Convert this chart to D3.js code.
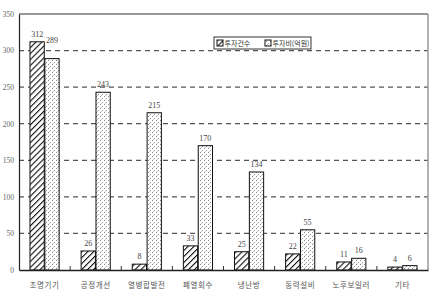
<!DOCTYPE html>
<html><head><meta charset="utf-8">
<script src="https://cdn.jsdelivr.net/npm/d3@7"></script>
<style>body{margin:0;background:#fff}svg{display:block}</style>
</head><body>
<svg id="c" width="437" height="298"></svg>
<script>
const categories = ["조명기기","공정개선","열병합발전","폐열회수","냉난방","동력설비","노후보일러","기타"];
const countValues = [312,26,8,33,25,22,11,4];
const costValues = [289,243,215,170,134,55,16,6];
const seriesNames = ["투자건수","투자비(억원)"];
const yTicks = [0,50,100,150,200,250,300,350];

const W=437,H=298,m={l:19,r:9,t:14,b:28};
const svg=d3.select("#c");
const defs=svg.append("defs");
const hatch=defs.append("pattern").attr("id","hatch").attr("patternUnits","userSpaceOnUse")
  .attr("width",4.2).attr("height",4.2).attr("patternTransform","rotate(45)");
hatch.append("rect").attr("width",4.2).attr("height",4.2).attr("fill","#fff");
hatch.append("line").attr("x1",0).attr("y1",0).attr("x2",0).attr("y2",4.2).attr("stroke","#111").attr("stroke-width",2.2);
const dots=defs.append("pattern").attr("id","dots").attr("patternUnits","userSpaceOnUse")
  .attr("width",4).attr("height",4);
dots.append("rect").attr("width",4).attr("height",4).attr("fill","#fff");
dots.append("rect").attr("x",0).attr("y",0).attr("width",1).attr("height",1).attr("fill","#888");
dots.append("rect").attr("x",2).attr("y",2).attr("width",1).attr("height",1).attr("fill","#999");
dots.append("rect").attr("x",1).attr("y",3).attr("width",1).attr("height",1).attr("fill","#ccc");

const x=d3.scaleBand().domain(categories).range([m.l,W-m.r]).padding(0);
const bw=x.bandwidth();
const xi=d3.scaleBand().domain([0,1]).range([bw*0.215,bw*0.785]).paddingInner(0.04);
const y=d3.scaleLinear().domain([0,350]).range([H-m.b,m.t]);

// grid
svg.append("g").selectAll("line").data(yTicks.filter(d=>d>0&&d<350)).join("line")
  .attr("x1",m.l).attr("x2",W-m.r).attr("y1",d=>y(d)).attr("y2",d=>y(d))
  .attr("stroke","#555").attr("stroke-width",1.2).attr("stroke-dasharray","5,4");
// top & right border
svg.append("line").attr("x1",m.l).attr("x2",W-m.r).attr("y1",y(350)).attr("y2",y(350)).attr("stroke","#333").attr("stroke-width",1.2);
svg.append("line").attr("x1",W-m.r).attr("x2",W-m.r).attr("y1",y(350)).attr("y2",y(0)).attr("stroke","#999").attr("stroke-width",1.5);

// bars
const series=[countValues,costValues];
const fills=["url(#hatch)","url(#dots)"];
const gridYs=yTicks.map(d=>y(d));
series.forEach((vals,si)=>{
  const g=svg.append("g");
  g.selectAll("rect").data(vals).join("rect")
    .attr("x",(d,i)=>x(categories[i])+xi(si)).attr("width",xi.bandwidth())
    .attr("y",d=>y(d)).attr("height",d=>y(0)-y(d))
    .attr("fill",fills[si]).attr("stroke","#111").attr("stroke-width",1);
  g.selectAll("text").data(vals).join("text")
    .attr("x",(d,i)=>x(categories[i])+xi(si)+xi.bandwidth()/2)
    .attr("y",d=>{let ly=y(d)-5; if(gridYs.some(gy=>Math.abs(gy-(ly-3))<2)) ly-=11; return ly;})
    .attr("text-anchor","middle").attr("font-family","Liberation Serif, DejaVu Serif, serif")
    .attr("font-size",8).attr("fill","#444").text(d=>d);
});

// axes
const ya=svg.append("g").attr("transform",`translate(${m.l},0)`)
  .call(d3.axisLeft(y).tickValues(yTicks).tickSize(0).tickPadding(5));
ya.select(".domain").attr("stroke","#222").attr("stroke-width",1.2);
ya.selectAll("text").attr("font-family","Liberation Serif, DejaVu Serif, serif").attr("font-size",7.5).attr("fill","#666");

const xa=svg.append("g").attr("transform",`translate(0,${y(0)})`)
  .call(d3.axisBottom(x).tickSize(0).tickPadding(13));
xa.select(".domain").attr("stroke","#222").attr("stroke-width",1.4);
xa.selectAll("text").attr("font-family","Noto Sans CJK KR, sans-serif").attr("font-size",7.5)
  .attr("letter-spacing",0.6).attr("fill","#555");
// boundary ticks
svg.append("g").selectAll("line").data(categories.slice(1)).join("line")
  .attr("x1",d=>x(d)).attr("x2",d=>x(d)).attr("y1",y(0)).attr("y2",y(0)-4)
  .attr("stroke","#333").attr("stroke-width",1);

// legend
const lg=svg.append("g").attr("transform","translate(214,37)");
lg.append("rect").attr("width",97).attr("height",12).attr("fill","#fff").attr("stroke","#333").attr("stroke-width",1);
const lx=[3,51];
seriesNames.forEach((n,i)=>{
  lg.append("rect").attr("x",lx[i]).attr("y",3).attr("width",6).attr("height",6)
    .attr("fill",fills[i]).attr("stroke","#111").attr("stroke-width",1);
  lg.append("text").attr("x",lx[i]+7.5).attr("y",9).attr("font-family","Noto Sans CJK KR, sans-serif")
    .attr("font-size",7).attr("fill","#333").text(n);
});
</script>
</body></html>
